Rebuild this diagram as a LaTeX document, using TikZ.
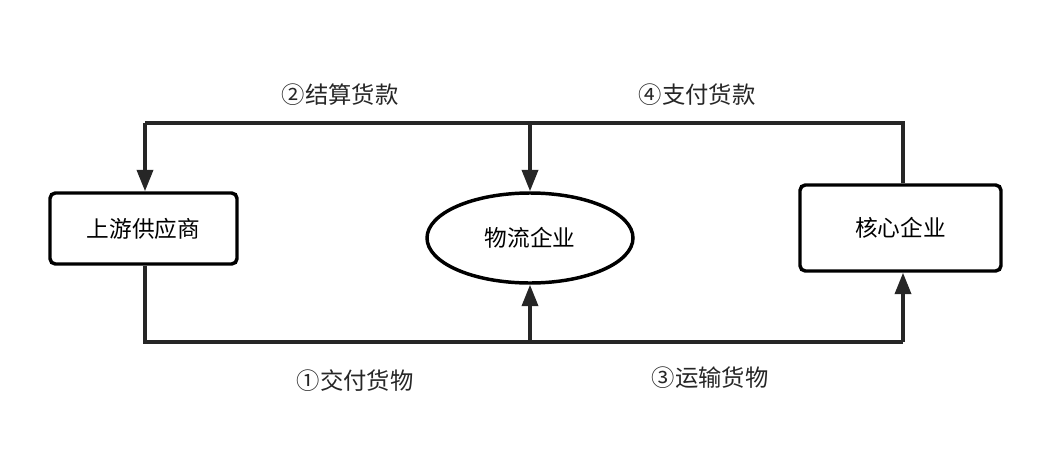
\documentclass[tikz,border=0pt]{standalone}
\usepackage{fontspec}
\setmainfont{Noto Sans CJK SC}
\usetikzlibrary{shapes.geometric,arrows.meta}
\begin{document}
\begin{tikzpicture}[x=0.75pt,y=-0.75pt,
  ln/.style={draw=black!85,line width=2.6pt},
  arr/.style={ln,-{Triangle[length=16pt,width=12pt]}},
  box/.style={draw=black,line width=2.6pt,rounded corners=4pt,fill=white,font=\fontsize{17}{19}\selectfont},
  lbl/.style={font=\fontsize{17.5}{20}\selectfont,text=black!85}]
\useasboundingbox (0,0) rectangle (1052,468);
\node[box,minimum width=140.25pt,minimum height=53.25pt] (s) at (143.5,228.5) {上游供应商};
\node[box,ellipse,rounded corners=0pt,minimum width=154.5pt,minimum height=67.5pt] (l) at (530,238) {物流企业};
\node[box,minimum width=150.75pt,minimum height=64.5pt] (c) at (900.5,228) {核心企业};
\coordinate (tl) at (145,123); \coordinate (tm) at (530,123); \coordinate (tr) at (903,123);
\coordinate (bl) at (145,342); \coordinate (bm) at (530,342); \coordinate (br) at (903,342);
\draw[ln] (c.north -| tr) -- (tr) -- (tl);
\draw[arr] (tl) -- (s.north -| tl);
\draw[arr] (tm) -- (l.north);
\draw[ln] (s.south -| bl) -- (bl) -- (br);
\draw[arr] (bm) -- (l.south);
\draw[arr] (br) -- (c.south -| br);
\node[lbl] (t2) at (340,95) {②结算货款};
\node[lbl] (t4) at (697,95) {④支付货款};
\node[lbl] (t1) at (355,381) {①交付货物};
\node[lbl] (t3) at (710,378) {③运输货物};
\end{tikzpicture}
\end{document}
